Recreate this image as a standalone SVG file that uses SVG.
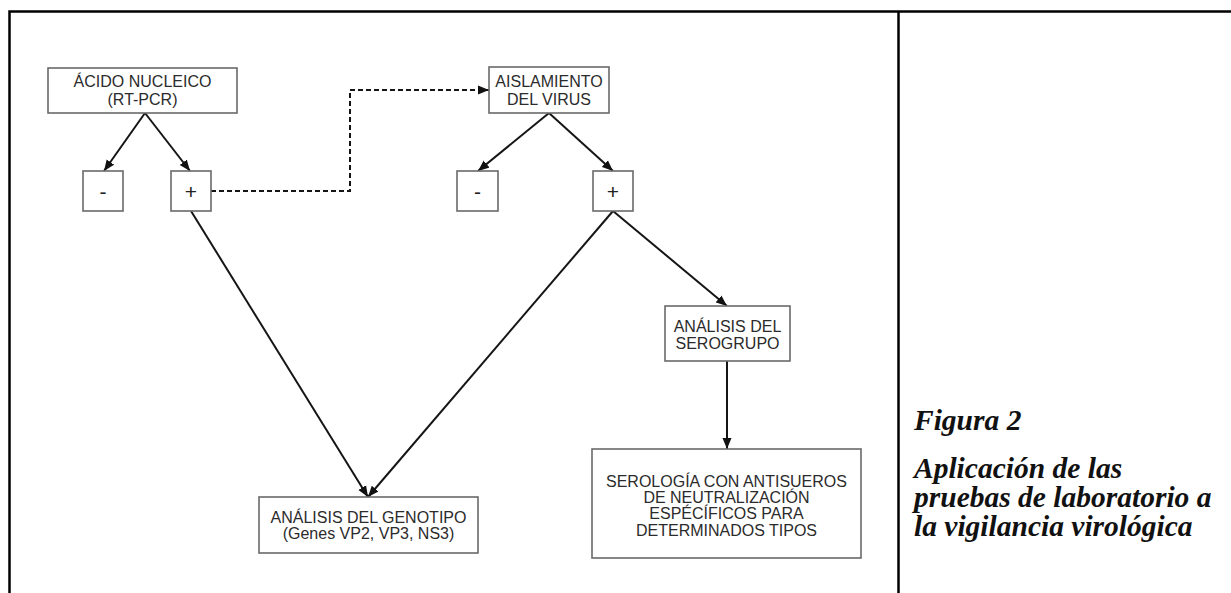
<svg xmlns="http://www.w3.org/2000/svg" width="1231" height="593" viewBox="0 0 1231 593">
  <defs>
    <marker id="arrow" markerUnits="userSpaceOnUse" markerWidth="12" markerHeight="10" refX="11" refY="5" orient="auto">
      <path d="M0,0.5 L11,5 L0,9.5 Z" fill="#111"/>
    </marker>
    <style>
      .box { fill: #fff; stroke: #6a6a6a; stroke-width: 1.6; }
      .lbl { font-family: "Liberation Sans", Arial, sans-serif; font-size: 16px; fill: #2b2b2b; text-anchor: middle; }
      .sign { font-family: "Liberation Sans", Arial, sans-serif; font-size: 21px; fill: #222; text-anchor: middle; }
      .edge { fill: none; stroke: #151515; stroke-width: 2; }
      .dash { stroke-dasharray: 5 3; }
      .frame { fill: none; stroke: #000; stroke-width: 2.5; }
      .cap { font-family: "Liberation Serif", "Times New Roman", serif; font-weight: bold; font-style: italic; font-size: 29.5px; fill: #111; }
    </style>
  </defs>

  <rect width="1231" height="593" fill="#fff"/>

  <!-- page frame and caption column divider -->
  <g id="frame">
    <path class="frame" d="M9.5,593 V11.5 H1231"/>
    <path class="frame" d="M898.5,11.5 V593"/>
  </g>

  <!-- connectors -->
  <g id="connectors">
    <line class="edge" x1="145" y1="113" x2="104" y2="171" marker-end="url(#arrow)"/>
    <line class="edge" x1="145" y1="113" x2="190" y2="171" marker-end="url(#arrow)"/>
    <path class="edge dash" d="M211,191 H350 V90 H489" marker-end="url(#arrow)"/>
    <line class="edge" x1="549" y1="113" x2="478" y2="171" marker-end="url(#arrow)"/>
    <line class="edge" x1="549" y1="113" x2="613" y2="171" marker-end="url(#arrow)"/>
    <line class="edge" x1="613" y1="211" x2="727" y2="306" marker-end="url(#arrow)"/>
    <line class="edge" x1="727" y1="361" x2="727" y2="449" marker-end="url(#arrow)"/>
    <line class="edge" x1="191" y1="211" x2="368" y2="497" marker-end="url(#arrow)"/>
    <line class="edge" x1="613" y1="211" x2="368" y2="497" marker-end="url(#arrow)"/>
  </g>

  <g id="acido-nucleico">
    <rect class="box" x="48" y="68" width="189" height="45"/>
    <text class="lbl" x="142.5" y="87">ÁCIDO NUCLEICO</text>
    <text class="lbl" x="142.5" y="105">(RT-PCR)</text>
  </g>

  <g id="acido-negativo">
    <rect class="box" x="83" y="171" width="40" height="40"/>
    <text class="sign" x="103" y="198.5">-</text>
  </g>

  <g id="acido-positivo">
    <rect class="box" x="171" y="171" width="40" height="40"/>
    <text class="sign" x="191" y="198.5">+</text>
  </g>

  <g id="aislamiento">
    <rect class="box" x="489" y="67" width="120" height="46"/>
    <text class="lbl" x="549" y="87">AISLAMIENTO</text>
    <text class="lbl" x="549" y="104.5">DEL VIRUS</text>
  </g>

  <g id="aislamiento-negativo">
    <rect class="box" x="457" y="171" width="41" height="40"/>
    <text class="sign" x="477.5" y="198.5">-</text>
  </g>

  <g id="aislamiento-positivo">
    <rect class="box" x="593" y="171" width="40" height="40"/>
    <text class="sign" x="613" y="198.5">+</text>
  </g>

  <g id="serogrupo">
    <rect class="box" x="665" y="306" width="125" height="55"/>
    <text class="lbl" x="727.5" y="332">ANÁLISIS DEL</text>
    <text class="lbl" x="727.5" y="349">SEROGRUPO</text>
  </g>

  <g id="serologia">
    <rect class="box" x="592" y="449" width="269" height="109"/>
    <text class="lbl" x="726.5" y="486.5">SEROLOGÍA CON ANTISUEROS</text>
    <text class="lbl" x="726.5" y="502.5">DE NEUTRALIZACIÓN</text>
    <text class="lbl" x="726.5" y="519">ESPÉCÍFICOS PARA</text>
    <text class="lbl" x="726.5" y="535.5">DETERMINADOS TIPOS</text>
  </g>

  <g id="genotipo">
    <rect class="box" x="259" y="497" width="219" height="56"/>
    <text class="lbl" x="368.5" y="523">ANÁLISIS DEL GENOTIPO</text>
    <text class="lbl" x="368.5" y="539">(Genes VP2, VP3, NS3)</text>
  </g>

  <g id="caption">
    <text class="cap" x="914" y="430">Figura 2</text>
    <text class="cap" x="914" y="478">Aplicación de las</text>
    <text class="cap" x="914" y="507">pruebas de laboratorio a</text>
    <text class="cap" x="914" y="536">la vigilancia virológica</text>
  </g>
</svg>
